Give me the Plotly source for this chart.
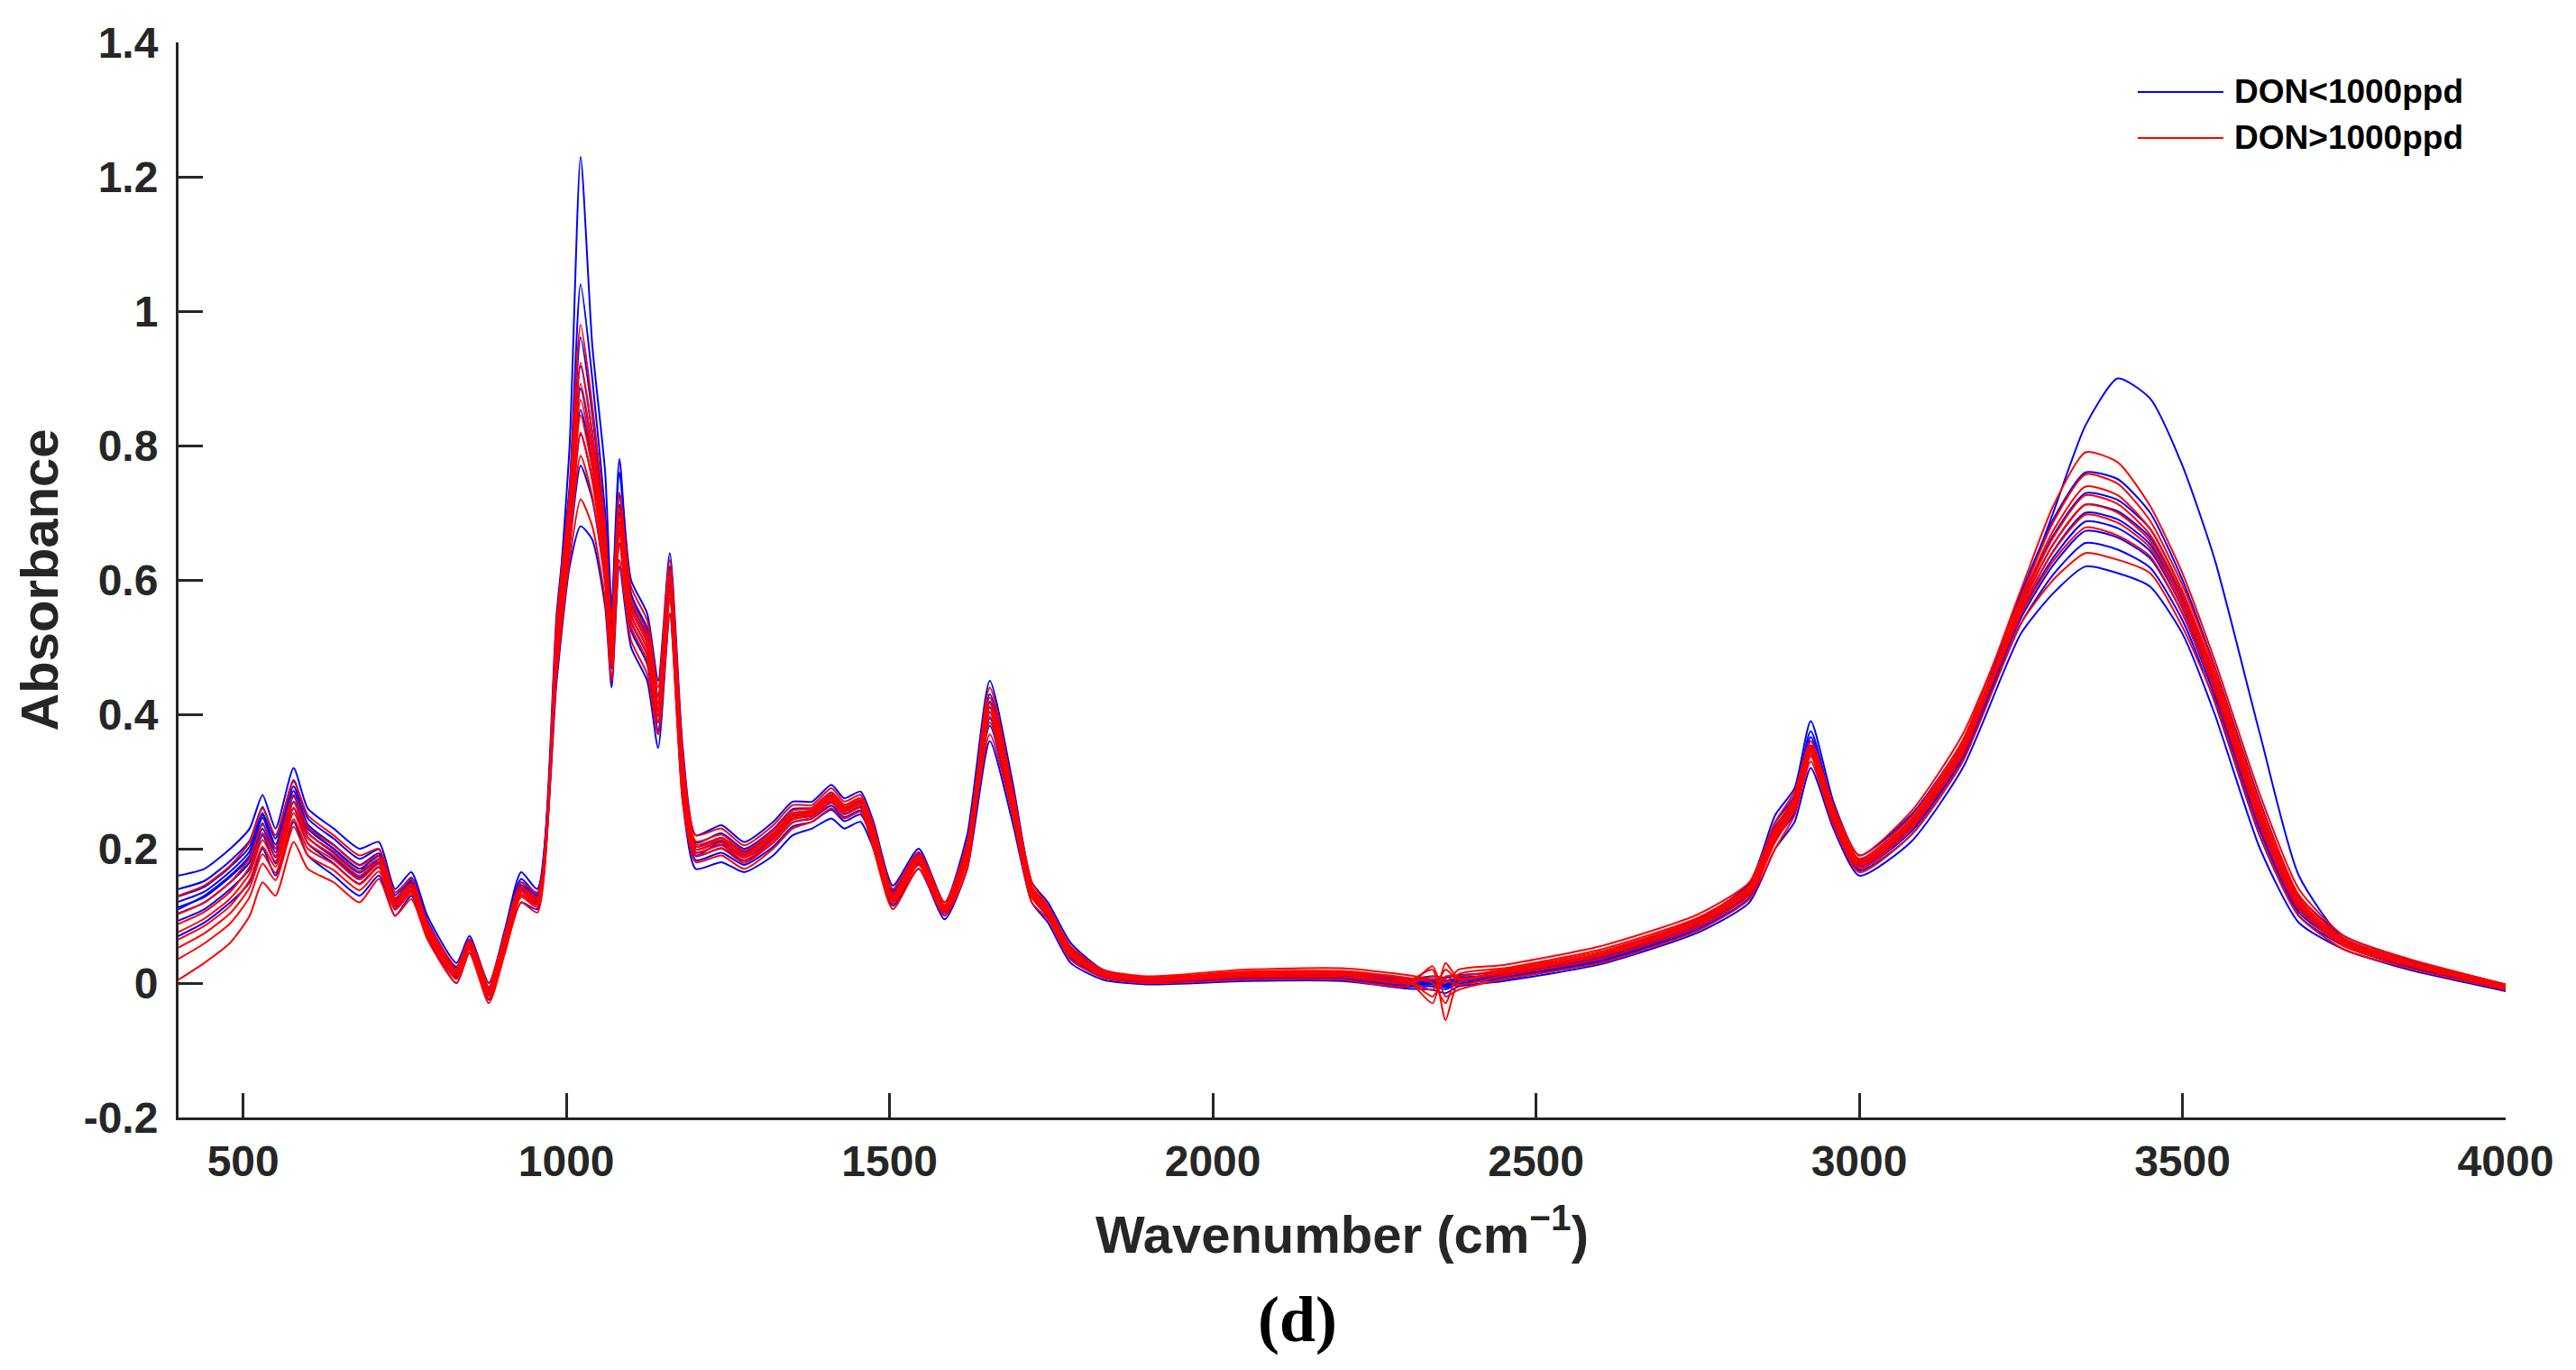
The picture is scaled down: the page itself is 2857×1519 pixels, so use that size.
import plotly.graph_objects as go

WAVENUMBER = [400, 440, 480, 510, 530, 550, 578, 600, 640, 680,
              710, 735, 760, 785, 830, 850, 880, 905, 930, 955,
              985, 1005, 1022, 1040, 1060, 1070, 1082, 1100, 1125, 1142,
              1160, 1180, 1200, 1240, 1275, 1320, 1350, 1380, 1410, 1430,
              1455, 1475, 1505, 1545, 1585, 1620, 1655, 1690, 1720, 1745,
              1780, 1830, 1900, 2050, 2200, 2300, 2340, 2360, 2380, 2450,
              2600, 2750, 2830, 2870, 2900, 2925, 2960, 3000, 3080, 3160,
              3250, 3300, 3350, 3400, 3450, 3500, 3550, 3620, 3680, 3750,
              3850, 4000]

BLUE_1 = [.104, .120, .150, .180, .230, .187, .270, .217, .187, .157,
          .179, .115, .143, .081, .011, .055, -.016, .061, .137, .121,
          .45, .62, .68, .66, .56, .44, .62, .50, .45, .35,
          .55, .27, .17, .18, .165, .19, .22, .23, .245, .23,
          .24, .20, .115, .17, .095, .17, .36, .24, .12, .09,
          .03, .005, -.002, .003, .003, -.008, -.01, -.015, -.005, .003,
          .028, .075, .12, .20, .24, .32, .23, .16, .21, .32,
          .52, .58, .62, .61, .59, .52, .40, .20, .09, .05,
          .02, -.012]
BLUE_2 = [.16, .17, .20, .23, .28, .23, .32, .26, .23, .20,
          .21, .14, .165, .10, .03, .07, .00, .08, .165, .14,
          .475, .65, .77, .72, .595, .468, .655, .525, .475, .375,
          .573, .29, .183, .194, .176, .203, .233, .24, .258, .241,
          .251, .21, .123, .178, .101, .183, .394, .263, .131, .101,
          .041, .011, .002, .007, .008, -.003, -.002, -.006, .002, .008,
          .034, .083, .131, .219, .259, .347, .245, .171, .225, .335,
          .535, .608, .655, .645, .618, .54, .418, .218, .10, .055,
          .024, -.01]
BLUE_3 = [.093, .11, .14, .17, .22, .178, .26, .208, .178, .148,
          .173, .11, .139, .078, .008, .051, -.019, .058, .131, .118,
          .498, .678, .853, .775, .627, .493, .687, .548, .498, .398,
          .593, .308, .194, .206, .187, .214, .244, .249, .269, .252,
          .262, .219, .129, .184, .107, .194, .411, .274, .137, .107,
          .047, .014, .004, .009, .010, .000, .001, -.002, .005, .010,
          .037, .086, .136, .229, .269, .360, .253, .177, .233, .343,
          .543, .622, .673, .663, .632, .550, .427, .227, .105, .058,
          .026, -.008]
BLUE_4 = [.121, .136, .166, .196, .246, .200, .286, .230, .200, .170,
          .189, .123, .150, .087, .017, .059, -.011, .067, .146, .127,
          .516, .699, .918, .818, .652, .513, .712, .566, .516, .416,
          .609, .323, .203, .216, .195, .223, .253, .256, .278, .260,
          .270, .226, .135, .190, .112, .203, .383, .255, .128, .098,
          .038, .009, .001, .006, .006, -.005, -.005, -.009, -.001, .006,
          .032, .080, .127, .213, .253, .338, .240, .168, .220, .330,
          .549, .633, .687, .677, .643, .558, .434, .234, .109, .060,
          .027, -.007]
BLUE_5 = [.140, .152, .182, .212, .262, .215, .302, .245, .215, .185,
          .199, .131, .157, .093, .023, .065, -.006, .073, .155, .133,
          .55, .74, 1.04, .90, .70, .55, .76, .60, .55, .45,
          .64, .35, .22, .235, .21, .24, .27, .27, .295, .275,
          .285, .24, .145, .20, .12, .22, .45, .30, .15, .12,
          .06, .02, .008, .013, .015, .006, .01, .008, .012, .016,
          .044, .095, .148, .25, .29, .39, .27, .19, .25, .36,
          .554, .643, .700, .690, .653, .566, .440, .240, .113, .061,
          .029, -.006]
BLUE_6 = [.113, .128, .158, .188, .238, .194, .278, .224, .194, .164,
          .184, .119, .147, .084, .014, .057, -.013, .064, .142, .124,
          .488, .666, .817, .751, .613, .482, .673, .538, .488, .388,
          .584, .300, .189, .201, .182, .209, .239, .245, .264, .247,
          .257, .215, .126, .181, .105, .189, .403, .269, .134, .104,
          .044, .012, .003, .008, .009, -.001, .000, -.004, .003, .009,
          .036, .085, .133, .224, .264, .354, .249, .174, .229, .339,
          .560, .653, .712, .702, .663, .573, .446, .246, .116, .063,
          .030, -.005]
BLUE_7 = [.07, .09, .12, .15, .20, .16, .24, .19, .16, .13,
          .16, .10, .13, .07, .00, .045, -.025, .05, .12, .11,
          .528, .714, .961, .847, .669, .526, .729, .578, .528, .428,
          .620, .332, .209, .223, .200, .229, .259, .261, .284, .265,
          .275, .231, .138, .193, .115, .209, .419, .280, .140, .110,
          .050, .015, .005, .010, .011, .001, .003, .000, .006, .012,
          .039, .088, .139, .233, .273, .366, .256, .180, .236, .346,
          .567, .666, .729, .719, .676, .582, .455, .255, .121, .066,
          .032, -.004]
BLUE_8 = [.129, .143, .173, .203, .253, .206, .293, .236, .206, .176,
          .193, .126, .153, .090, .020, .062, -.009, .070, .150, .130,
          .507, .688, .885, .797, .640, .503, .700, .557, .507, .407,
          .601, .316, .199, .211, .191, .219, .249, .253, .274, .256,
          .266, .223, .132, .187, .109, .199, .430, .287, .143, .113,
          .053, .017, .006, .011, .012, .003, .006, .003, .008, .013,
          .041, .091, .142, .239, .279, .375, .261, .183, .241, .351,
          .58, .69, .76, .75, .70, .60, .47, .27, .13, .07,
          .035, -.002]
BLUE_OUTLIER = [.11, .13, .16, .19, .25, .20, .28, .23, .20, .17,
                .18, .12, .15, .08, .01, .055, -.015, .06, .14, .12,
                .52, .80, 1.23, .95, .76, .56, .78, .58, .52, .37,
                .62, .31, .19, .21, .19, .22, .25, .25, .28, .26,
                .27, .22, .13, .18, .11, .19, .41, .27, .14, .11,
                .05, .015, .005, .01, .01, .0, .0, -.002, .004, .01,
                .036, .085, .135, .22, .27, .35, .25, .175, .23, .34,
                .57, .70, .83, .90, .87, .77, .63, .37, .16, .065,
                .03, -.006]

RED_1 = [.005, .03, .06, .10, .15, .13, .21, .17, .15, .12,
         .155, .10, .125, .065, .00, .045, -.03, .045, .12, .105,
         .498, .678, .845, .766, .623, .493, .678, .548, .498, .404,
         .588, .304, .199, .209, .187, .217, .247, .252, .274, .257,
         .267, .217, .124, .182, .110, .189, .397, .265, .131, .103,
         .043, .013, .004, .011, .012, .002, .02, -.055, .001, .014,
         .040, .087, .135, .215, .263, .341, .246, .175, .233, .345,
         .548, .628, .678, .666, .635, .550, .435, .235, .110, .055,
         .026, -.008]
RED_2 = [.036, .059, .089, .128, .178, .153, .233, .190, .168, .138,
         .166, .109, .133, .071, .006, .050, -.023, .053, .128, .113,
         .480, .655, .785, .725, .598, .473, .655, .530, .480, .388,
         .570, .288, .190, .200, .179, .209, .239, .246, .268, .251,
         .261, .209, .118, .176, .105, .180, .410, .273, .137, .106,
         .046, .015, .006, .014, .015, .005, -.03, .03, .007, .018,
         .044, .092, .139, .223, .270, .347, .252, .179, .240, .353,
         .559, .653, .712, .700, .658, .568, .449, .249, .119, .060,
         .029, -.006]
RED_3 = [.076, .096, .126, .163, .213, .181, .261, .216, .190, .160,
         .181, .120, .142, .079, .014, .056, -.013, .062, .137, .122,
         .54, .73, .98, .86, .68, .54, .73, .59, .54, .44,
         .63, .34, .22, .23, .205, .235, .265, .265, .29, .27,
         .28, .235, .14, .195, .12, .21, .425, .281, .143, .111,
         .051, .017, .008, .017, .018, .008, .0, -.03, .013, .022,
         .050, .097, .145, .231, .277, .353, .258, .185, .247, .361,
         .585, .71, .79, .775, .71, .61, .48, .28, .14, .07,
         .036, -.002]
RED_4 = [.103, .120, .150, .186, .236, .200, .280, .232, .205, .175,
         .190, .127, .148, .085, .020, .061, -.007, .068, .143, .128,
         .513, .696, .892, .799, .643, .509, .696, .563, .513, .416,
         .603, .316, .206, .216, .193, .223, .253, .257, .280, .262,
         .272, .223, .130, .187, .113, .196, .388, .260, .128, .100,
         .040, .011, .003, .009, .009, -.001, .01, .005, -.003, .011,
         .036, .084, .131, .210, .259, .338, .243, .171, .229, .340,
         .564, .663, .726, .713, .667, .576, .454, .254, .123, .061,
         .030, -.005]
RED_5 = [.13, .145, .175, .21, .26, .22, .30, .25, .22, .19,
         .20, .135, .155, .09, .025, .065, .00, .075, .15, .135,
         .46, .63, .72, .68, .57, .45, .63, .51, .46, .37,
         .55, .27, .18, .19, .17, .20, .23, .24, .26, .245,
         .255, .20, .11, .17, .10, .17, .404, .269, .134, .105,
         .045, .014, .005, .012, .013, .003, -.01, .02, .004, .016,
         .042, .090, .137, .219, .267, .344, .249, .177, .237, .349,
         .554, .642, .697, .685, .648, .560, .443, .243, .115, .058,
         .027, -.007]
RED_6 = [.053, .074, .104, .142, .192, .164, .244, .200, .177, .147,
         .172, .113, .136, .075, .010, .053, -.019, .056, .131, .116,
         .522, .708, .923, .820, .656, .520, .708, .572, .522, .425,
         .612, .325, .211, .221, .197, .227, .257, .260, .283, .265,
         .275, .227, .133, .190, .116, .201, .44, .29, .15, .115,
         .055, .02, .01, .02, .022, .012, .005, .0, .02, .027,
         .055, .102, .15, .24, .285, .36, .265, .19, .255, .37,
         .574, .686, .757, .743, .688, .592, .467, .267, .131, .066,
         .033, -.004]
RED_7 = [.065, .085, .115, .153, .203, .173, .253, .208, .184, .154,
         .177, .117, .139, .077, .012, .055, -.016, .059, .134, .119,
         .490, .668, .819, .748, .612, .484, .668, .540, .490, .397,
         .580, .297, .195, .205, .183, .213, .243, .250, .271, .255,
         .265, .213, .121, .180, .108, .185, .37, .25, .12, .095,
         .035, .008, .0, .005, .005, -.005, .025, -.02, -.01, .006,
         .03, .078, .125, .20, .25, .33, .235, .165, .22, .33,
         .535, .60, .64, .63, .61, .53, .42, .22, .10, .05,
         .022, -.01]
RED_8 = [.088, .106, .136, .173, .223, .189, .269, .223, .196, .166,
         .185, .123, .145, .082, .017, .058, -.010, .065, .140, .125,
         .506, .687, .868, .783, .633, .501, .687, .556, .506, .410,
         .596, .310, .203, .213, .190, .220, .250, .254, .277, .259,
         .269, .220, .127, .184, .111, .193, .416, .276, .140, .108,
         .048, .016, .007, .015, .016, .006, -.02, .01, .010, .020,
         .047, .094, .142, .226, .273, .350, .255, .182, .243, .356,
         .568, .673, .739, .726, .676, .583, .460, .260, .126, .063,
         .031, -.005]

BLUE_SERIES = [BLUE_1, BLUE_2, BLUE_3, BLUE_4, BLUE_5, BLUE_6, BLUE_7, BLUE_8, BLUE_OUTLIER]
RED_SERIES = [RED_1, RED_2, RED_3, RED_4, RED_5, RED_6, RED_7, RED_8]
SERIES_NAMES = ["DON<1000ppd", "DON>1000ppd"]
SERIES_COLORS = ["rgb(0,0,255)", "rgb(255,0,0)"]

X_TICKS = [500, 1000, 1500, 2000, 2500, 3000, 3500, 4000]
X_TICK_TEXT = ["500", "1000", "1500", "2000", "2500", "3000", "3500", "4000"]
Y_TICKS = [-0.2, 0, 0.2, 0.4, 0.6, 0.8, 1.0, 1.2, 1.4]
Y_TICK_TEXT = ["-0.2", "0", "0.2", "0.4", "0.6", "0.8", "1", "1.2", "1.4"]

for s in BLUE_SERIES + RED_SERIES:
    assert len(s) == len(WAVENUMBER)

AXIS_COLOR = "#262626"
SANS = "Liberation Sans, Arial, Helvetica, sans-serif"

fig = go.Figure()
for series, name, color in zip([BLUE_SERIES, RED_SERIES], SERIES_NAMES, SERIES_COLORS):
    for ys in series:
        fig.add_trace(go.Scatter(
            x=WAVENUMBER, y=ys, mode="lines",
            line=dict(color=color, width=2, shape="spline", smoothing=0.6),
            name=name, legendgroup=name, showlegend=False,
        ))

# legend entries (text from the legend; key lines drawn long, MATLAB-style, below)
for name, color in zip(SERIES_NAMES, SERIES_COLORS):
    fig.add_trace(go.Scatter(
        x=[None], y=[None], mode="lines", line=dict(color=color, width=0),
        name=name, legendgroup=name, showlegend=True,
    ))
for yk, color in zip([0.9539, 0.9111], SERIES_COLORS):
    fig.add_shape(type="line", xref="paper", yref="paper",
                  x0=0.8419, x1=0.8787, y0=yk, y1=yk,
                  line=dict(color=color, width=2))

axis_common = dict(
    showline=True, linecolor=AXIS_COLOR, linewidth=3, mirror=False,
    ticks="inside", ticklen=27, tickwidth=3, tickcolor=AXIS_COLOR,
    showgrid=False, zeroline=False,
    tickfont=dict(family=SANS, size=48, color=AXIS_COLOR, weight="bold"),
)

fig.update_xaxes(
    range=[400, 4000], tickvals=X_TICKS, ticktext=X_TICK_TEXT,
    ticklabelstandoff=4,
    title=dict(text="Wavenumber (cm<sup>\u22121</sup>)", standoff=36,
               font=dict(family=SANS, size=58, color=AXIS_COLOR, weight="bold")),
    **axis_common,
)
fig.update_yaxes(
    range=[-0.2, 1.4], tickvals=Y_TICKS, ticktext=Y_TICK_TEXT,
    ticklabelstandoff=10,
    title=dict(text="Absorbance", standoff=10,
               font=dict(family=SANS, size=58, color=AXIS_COLOR, weight="bold")),
    **axis_common,
)

fig.add_annotation(
    text="(d)", xref="paper", yref="paper", x=0.481, y=-0.188,
    xanchor="center", yanchor="middle", showarrow=False,
    font=dict(family="Liberation Serif, Times New Roman, serif", size=72, color="black", weight="bold"),
)

fig.update_layout(
    width=2849, height=1511,
    margin=dict(l=190, r=78, t=39, b=280),
    paper_bgcolor="white", plot_bgcolor="white",
    showlegend=True,
    legend=dict(
        x=0.8679, y=0.9815, xanchor="left", yanchor="top",
        font=dict(family=SANS, size=37, color="black", weight="bold"),
        bgcolor="rgba(0,0,0,0)", borderwidth=0, tracegroupgap=0,
        itemwidth=30,
    ),
    hovermode=False,
)

fig.write_html("out.html")
